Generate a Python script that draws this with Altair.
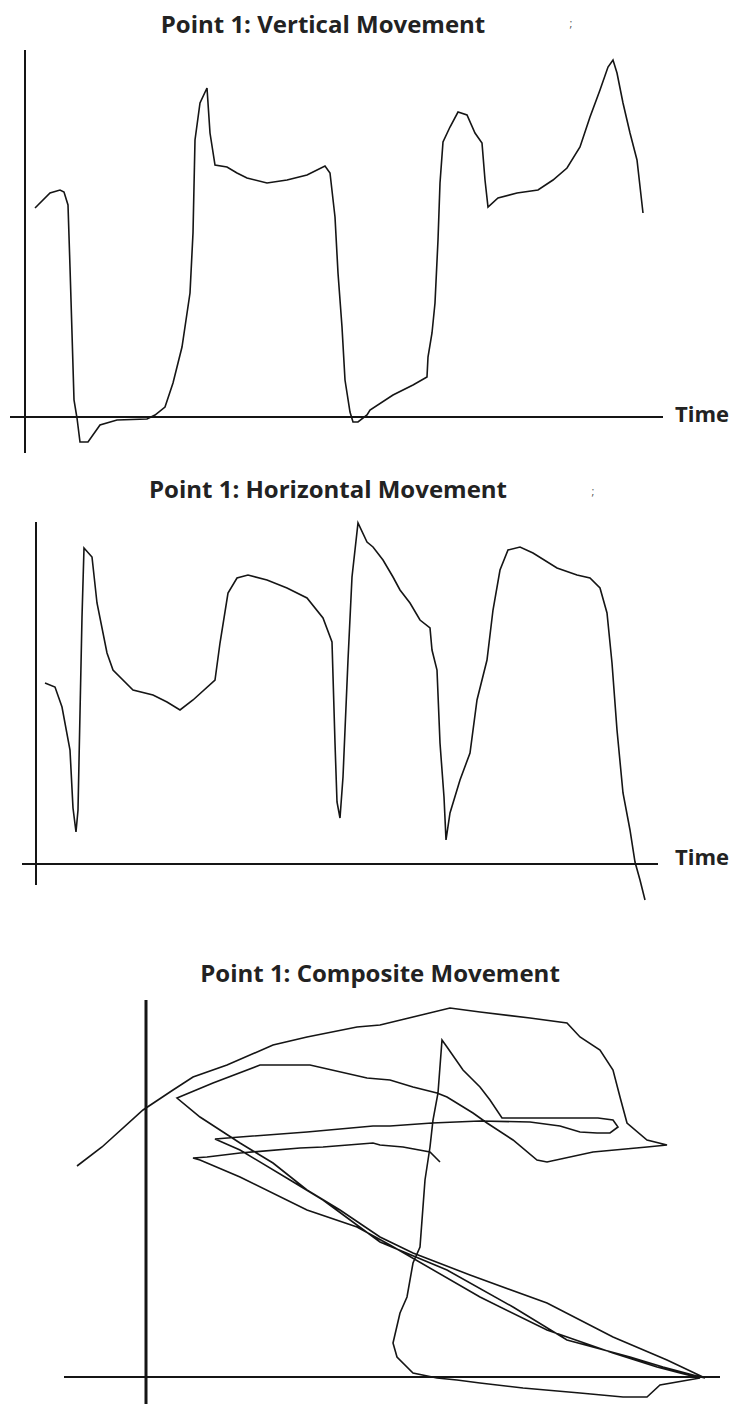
import altair as alt
import pandas as pd

# ---------------- Panel 1: vertical movement (time, displacement) ----------------
v_time = [10, 25, 35, 39, 43, 45, 47, 49, 52, 55, 63, 75, 92, 122, 130, 140, 148, 157, 165, 168,
          170, 175, 182, 185, 190, 202, 212, 222, 242, 262, 282, 300, 305, 310, 313, 317, 320, 325, 328, 333,
          342, 345, 368, 388, 402, 403, 407, 410, 413, 415, 418, 425, 433, 442, 450, 457, 460, 463, 473, 492,
          513, 528, 542, 555, 565, 575, 583, 588, 592, 598, 605, 612, 618]
v_value = [209, 224, 227, 225, 212, 150, 84, 17, -1, -25, -25, -8, -3, -2, 2, 10, 34, 70, 124, 184,
           277, 314, 329, 284, 252, 250, 244, 239, 234, 237, 242, 251, 244, 200, 144, 90, 37, 5, -5, -5,
           2, 7, 22, 32, 40, 60, 84, 114, 177, 234, 275, 290, 305, 302, 284, 274, 237, 210, 219, 224,
           227, 237, 249, 270, 300, 327, 350, 357, 344, 314, 284, 257, 204]

# ---------------- Panel 2: horizontal movement ----------------
h_time = [9, 19, 26, 34, 37, 40, 42, 44, 46, 48, 56, 61, 71, 77, 97, 117, 131, 144, 157, 179,
          184, 192, 201, 212, 231, 251, 271, 287, 296, 299, 301, 304, 307, 312, 316, 322, 331, 337, 347, 357,
          364, 374, 384, 394, 396, 401, 404, 408, 410, 414, 424, 434, 441, 451, 457, 464, 472, 484, 497, 521,
          541, 554, 564, 571, 576, 581, 587, 594, 599, 604, 609]
h_value = [181, 177, 157, 114, 56, 32, 54, 151, 247, 316, 307, 261, 211, 194, 174, 169, 162, 154, 164, 184,
           221, 271, 286, 289, 284, 276, 266, 246, 222, 121, 62, 46, 87, 204, 287, 341, 322, 317, 304, 287,
           274, 261, 244, 236, 214, 194, 121, 67, 24, 51, 84, 111, 164, 204, 254, 294, 314, 317, 311, 296,
           289, 286, 276, 251, 201, 134, 71, 34, 2, -16, -36]

# ---------------- Panel 3: composite path (horizontal vs vertical) ----------------
c_horiz = [294, 284, 257, 234, 227, 177, 154, 94, 61, 47,
           54, 94, 161, 211, 244, 334, 401, 467, 511, 534, 554, 514, 501,
           477, 434, 377, 334, 311, 291, 267, 251, 247, 254, 261, 267, 274, 279, 284, 287, 292, 296,
           301, 317, 334, 344, 356, 401, 452, 467, 472, 464, 451, 434, 414, 384, 334, 286, 244, 227, 161, 94, 69,
           94, 144, 177, 234, 301, 367, 421, 484, 517, 547, 559,
           521, 467, 401, 324, 267, 234, 194, 161, 127, 94, 54, 31,
           67, 114, 164, 221, 244, 267, 291, 301, 327, 341, 367, 391, 401, 447, 501, 521,
           501, 481, 474, 467, 454, 434, 421, 384, 334, 304, 267, 234, 211, 161, 127, 81, 47, 27, -3, -44, -69]
c_vert = [215, 225, 230, 232, 234, 230, 229, 224, 220, 219,
          217, 200, 167, 150, 132, 80, 47, 24, 10, 4, -1, -8, -20,
          -20, -16, -11, -6, -3, -1, 4, 20, 34, 64, 80, 114, 130, 197, 230, 257, 284, 337,
          330, 307, 290, 277, 259, 259, 259, 257, 250, 244, 244, 245, 251, 255, 256, 254, 251, 251, 245, 240, 238,
          227, 197, 177, 135, 107, 70, 37, 20, 10, 2, -1,
          17, 40, 74, 102, 124, 140, 167, 187, 214, 234, 260, 279,
          294, 312, 312, 299, 297, 290, 284, 280, 264, 254, 237, 217, 215, 225, 230, 232,
          237, 254, 280, 307, 327, 340, 354, 359, 365, 369, 360, 352, 350, 340, 332, 312, 300, 287, 267, 230, 211]

titles = ["Point 1: Vertical Movement", "Point 1: Horizontal Movement", "Point 1: Composite Movement"]
axis_label = "Time"

INK = "#151515"
FONT = "Open Sans"


def frame(rows):
    return pd.DataFrame(rows)


# Panel 1
p1_line = frame({"a": v_time, "b": v_value})
p1_axes = frame({"x1": [0, -15], "x2": [0, 638], "y1": [367, 0], "y2": [-36, 0], "w": [2, 2]})
p1_text = frame({"tx": [298, 650, 546], "ty": [384, 2, 393], "label": [titles[0], axis_label, ";"]})

# Panel 2
p2_line = frame({"a": h_time, "b": h_value})
p2_axes = frame({"x1": [0, -14], "x2": [0, 622], "y1": [342, 0], "y2": [-21, 0], "w": [2, 2]})
p2_text = frame({"tx": [292, 639, 557], "ty": [366, 6, 372], "label": [titles[1], axis_label, ";"]})

# Panel 3
p3_line = frame({"a": c_horiz, "b": c_vert, "i": list(range(len(c_horiz)))})
p3_axes = frame({"x1": [0, -82], "x2": [0, 574], "y1": [377, 0], "y2": [-27, 0], "w": [3, 2]})
p3_text = frame({"tx": [234], "ty": [395], "label": [titles[2]]})


def build(height, xdom, ydom, line_df, axes_df, texts_df, ordered=False, time_labels=True):
    xs = alt.Scale(domain=xdom, nice=False, zero=False)
    ys = alt.Scale(domain=ydom, nice=False, zero=False)
    rules = alt.Chart(axes_df).mark_rule(color=INK).encode(
        x=alt.X("x1:Q", scale=xs, axis=None), x2="x2:Q",
        y=alt.Y("y1:Q", scale=ys, axis=None), y2="y2:Q",
        strokeWidth=alt.StrokeWidth("w:Q", scale=None, legend=None),
    )
    enc = dict(x=alt.X("a:Q", scale=xs, axis=None), y=alt.Y("b:Q", scale=ys, axis=None))
    if ordered:
        enc["order"] = alt.Order("i:Q")
    line = alt.Chart(line_df).mark_line(color=INK, strokeWidth=1.6, interpolate="linear").encode(**enc)
    layers = [rules, line]
    title_df = texts_df.iloc[[0]]
    layers.append(alt.Chart(title_df).mark_text(font=FONT, fontWeight="bold", fontSize=24, color="#222222",
                                                align="center", baseline="alphabetic").encode(
        x=alt.X("tx:Q", scale=xs, axis=None), y=alt.Y("ty:Q", scale=ys, axis=None), text="label:N"))
    if time_labels:
        tdf = texts_df.iloc[[1]]
        layers.append(alt.Chart(tdf).mark_text(font=FONT, fontWeight="bold", fontSize=22, color="#222222",
                                               align="left", baseline="middle").encode(
            x=alt.X("tx:Q", scale=xs, axis=None), y=alt.Y("ty:Q", scale=ys, axis=None), text="label:N"))
        sdf = texts_df.iloc[[2]]
        layers.append(alt.Chart(sdf).mark_text(font=FONT, fontSize=11, color="#555555",
                                               align="center", baseline="middle").encode(
            x=alt.X("tx:Q", scale=xs, axis=None), y=alt.Y("ty:Q", scale=ys, axis=None), text="label:N"))
    return alt.layer(*layers).properties(width=722, height=height)


c1 = build(457, [-17, 705], [-48, 409], p1_line, p1_axes, p1_text)
c2 = build(440, [-28, 694], [-41, 399], p2_line, p2_axes, p2_text)
c3 = build(499, [-138, 584], [-27, 472], p3_line, p3_axes, p3_text, ordered=True, time_labels=False)

chart = alt.vconcat(c1, c2, c3, spacing=0).properties(padding=0).configure_view(stroke=None)

chart.save("out.html", embed_options={"renderer": "svg", "actions": False})
